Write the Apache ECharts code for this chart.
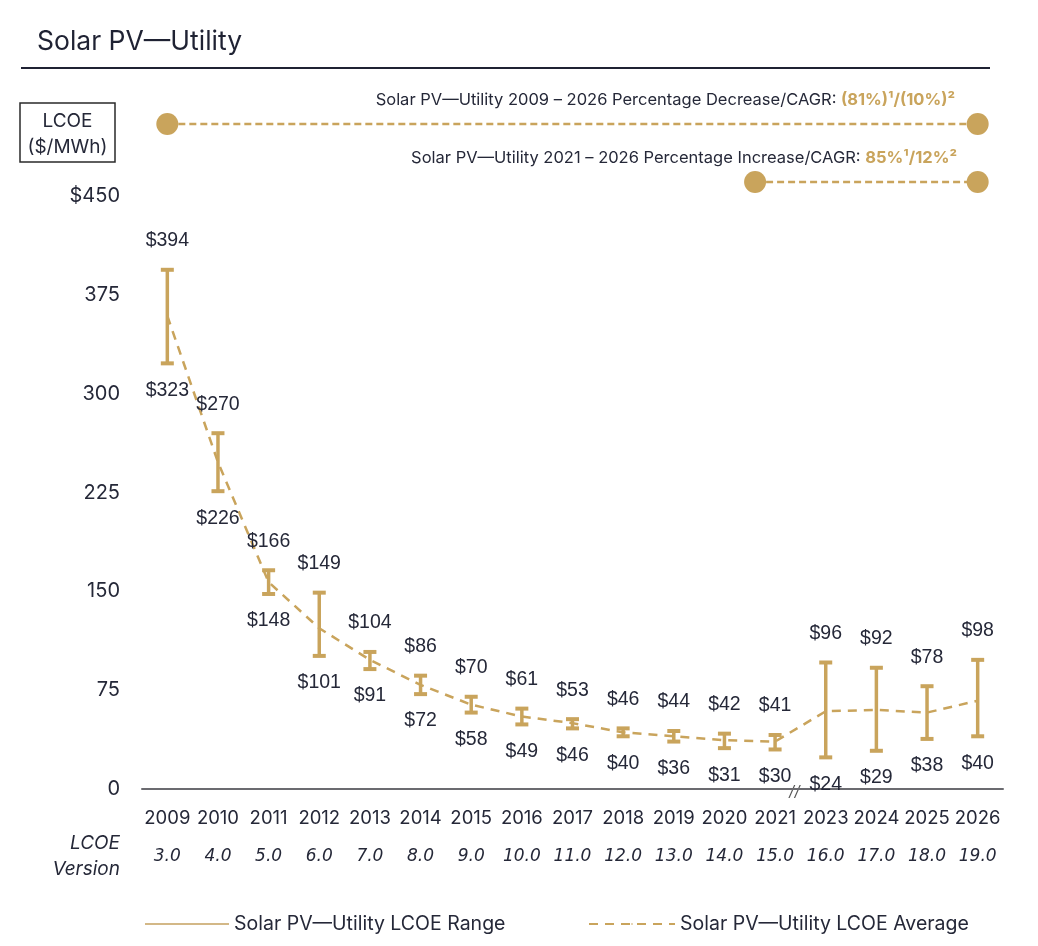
<!DOCTYPE html>
<html>
<head>
<meta charset="utf-8">
<script src="https://cdn.jsdelivr.net/npm/echarts@6/dist/echarts.min.js"></script>
<style>
  html, body { margin: 0; padding: 0; background: #fff; }
  #chart { width: 1038px; height: 946px; }
</style>
</head>
<body>
<div id="chart"></div>
<script>
// -----------------------------
// DATA
// -----------------------------
const years = ["2009", "2010", "2011", "2012", "2013", "2014", "2015", "2016", "2017",
  "2018", "2019", "2020", "2021", "2023", "2024", "2025", "2026"];
const versions = ["3.0", "4.0", "5.0", "6.0", "7.0", "8.0", "9.0", "10.0", "11.0",
  "12.0", "13.0", "14.0", "15.0", "16.0", "17.0", "18.0", "19.0"];
const rangeHigh = [394, 270, 166, 149, 104, 86, 70, 61, 53, 46, 44, 42, 41, 96, 92, 78, 98];
const rangeLow = [323, 226, 148, 101, 91, 72, 58, 49, 46, 40, 36, 31, 30, 24, 29, 38, 40];
const average = [359, 248, 157, 122, 98, 79, 64, 55, 50, 43, 40, 37, 36, 59, 60, 58, 67];
const yTicks = [0, 75, 150, 225, 300, 375, 450];

const GOLD = "#c9a45c";
const INK = "#252838";
const FONT = 'Inter, "Noto Sans", sans-serif';
const NUM_FONT = '"Liberation Sans", Arial, sans-serif';

const chart = echarts.init(document.getElementById("chart"));

const rangeData = years.map((y, i) => [i, rangeHigh[i], rangeLow[i]]);

function renderRange(params, api) {
  const x = api.value(0);
  const hi = api.coord([x, api.value(1)]);
  const lo = api.coord([x, api.value(2)]);
  const half = 6.5;
  const stroke = { stroke: GOLD, lineWidth: 3.5 };
  const label = (txt, px, py) => ({
    type: "text",
    x: px, y: py,
    style: {
      text: txt, fill: INK, font: `19.5px ${NUM_FONT}`,
      align: "center", verticalAlign: "middle"
    }
  });
  return {
    type: "group",
    children: [
      { type: "line", shape: { x1: hi[0], y1: hi[1], x2: lo[0], y2: lo[1] }, style: stroke },
      { type: "line", shape: { x1: hi[0] - half, y1: hi[1], x2: hi[0] + half, y2: hi[1] }, style: { stroke: GOLD, lineWidth: 4 } },
      { type: "line", shape: { x1: lo[0] - half, y1: lo[1], x2: lo[0] + half, y2: lo[1] }, style: { stroke: GOLD, lineWidth: 4 } },
      label("$" + api.value(1), hi[0], hi[1] - 29),
      label("$" + api.value(2), lo[0], lo[1] + 27)
    ]
  };
}

chart.setOption({
  animation: false,
  grid: { left: 142, right: 35, top: 196, bottom: 157 },
  xAxis: {
    type: "category",
    data: years,
    axisLine: { lineStyle: { color: "#6b6b70", width: 2 } },
    axisTick: { show: false },
    axisLabel: {
      interval: 0,
      margin: 16,
      formatter: (v, i) => `{y|${v}}\n{v|${versions[i]}}`,
      rich: {
        y: { fontFamily: FONT, fontSize: 18.5, color: INK, lineHeight: 26 },
        v: { fontFamily: '"DejaVu Sans", sans-serif', fontStyle: "italic", fontSize: 17, color: INK, lineHeight: 52 }
      }
    }
  },
  yAxis: {
    type: "value",
    min: 0,
    max: 450,
    interval: 75,
    axisLine: { show: false },
    axisTick: { show: false },
    splitLine: { show: false },
    axisLabel: {
      margin: 22,
      fontFamily: FONT,
      fontSize: 20,
      color: INK,
      formatter: (v) => (v === yTicks[yTicks.length - 1] ? "$" + v : String(v))
    }
  },
  legend: [
    {
      left: 140, top: 909,
      itemWidth: 84, itemHeight: 2,
      textStyle: { fontFamily: FONT, fontSize: 19.5, color: INK },
      data: [{ name: "Solar PV—Utility LCOE Range", icon: "rect", itemStyle: { color: "#d3b887" } }]
    },
    {
      left: 583, top: 909,
      itemWidth: 86, itemHeight: 2,
      textStyle: { fontFamily: FONT, fontSize: 19.5, color: INK },
      data: [{ name: "Solar PV—Utility LCOE Average" }]
    }
  ],
  series: [
    {
      name: "Solar PV—Utility LCOE Average",
      type: "line",
      data: average,
      symbol: "none",
      z: 2,
      lineStyle: { color: GOLD, width: 2.5, type: [9, 7] },
      itemStyle: { color: GOLD }
    },
    {
      name: "Solar PV—Utility LCOE Range",
      type: "custom",
      data: rangeData,
      z: 3,
      itemStyle: { color: GOLD },
      renderItem: renderRange
    }
  ]
});

// -----------------------------
// ANNOTATIONS
// -----------------------------
const px = (cat) => chart.convertToPixel({ xAxisIndex: 0 }, cat);
const x2009 = px("2009");
const x2021 = px("2021");
const x2023 = px("2023");
const x2026 = px("2026");
const y0 = chart.convertToPixel({ yAxisIndex: 0 }, 0);

const dashLine = (id, xa, xb, y) => ({
  id, type: "line",
  shape: { x1: xa, y1: y, x2: xb, y2: y },
  style: { stroke: GOLD, lineWidth: 2.5, lineDash: [7, 4] }
});
const dot = (id, cx, cy) => ({
  id, type: "circle", shape: { cx, cy, r: 11 }, style: { fill: GOLD }, z: 10
});
const noteRich = {
  t: { fontFamily: FONT, fontSize: 16.5, fill: INK },
  g: { fontFamily: FONT, fontSize: 16.5, fontWeight: "bold", fill: GOLD }
};

chart.setOption({
  graphic: [
    {
      id: "title", type: "text", left: 37, top: 29,
      style: { text: "Solar PV—Utility", font: `26.5px ${FONT}`, fill: "#1f2233" }
    },
    {
      id: "rule", type: "line",
      shape: { x1: 21, y1: 68, x2: 990, y2: 68 },
      style: { stroke: "#1f2233", lineWidth: 2 }
    },
    {
      id: "box", type: "rect",
      shape: { x: 20, y: 103, width: 95, height: 59 },
      style: { fill: "none", stroke: "#2a2a2a", lineWidth: 1.5 }
    },
    {
      id: "boxText", type: "text", x: 67.5, y: 134,
      style: {
        text: "LCOE\n($/MWh)", font: `19px ${FONT}`, fill: INK,
        align: "center", verticalAlign: "middle", lineHeight: 26
      }
    },
    {
      id: "versionLabel", type: "text", x: 120, y: 856,
      style: {
        text: "LCOE\nVersion", font: `italic 19px ${FONT}`, fill: INK,
        align: "right", verticalAlign: "middle", lineHeight: 26
      }
    },
    {
      id: "note1", type: "text", x: 955, y: 100,
      style: {
        text: "{t|Solar PV—Utility 2009 – 2026 Percentage Decrease/CAGR: }{g|(81%)¹/(10%)²}",
        align: "right", verticalAlign: "middle", rich: noteRich
      }
    },
    {
      id: "note2", type: "text", x: 957, y: 158,
      style: {
        text: "{t|Solar PV—Utility 2021 – 2026 Percentage Increase/CAGR: }{g|85%¹/12%²}",
        align: "right", verticalAlign: "middle", rich: noteRich
      }
    },
    dashLine("line1", x2009, x2026, 124),
    dot("dot1a", x2009, 124),
    dot("dot1b", x2026, 124),
    dashLine("line2", x2021 - 20, x2026, 182),
    dot("dot2a", x2021 - 20, 182),
    dot("dot2b", x2026, 182),
    {
      id: "break", type: "text", x: (x2021 + x2023) / 2 - 6, y: y0 + 2,
      style: {
        text: "//", font: `italic 15px ${FONT}`, fill: "#555",
        align: "center", verticalAlign: "middle"
      }
    }
  ]
});
</script>
</body>
</html>
